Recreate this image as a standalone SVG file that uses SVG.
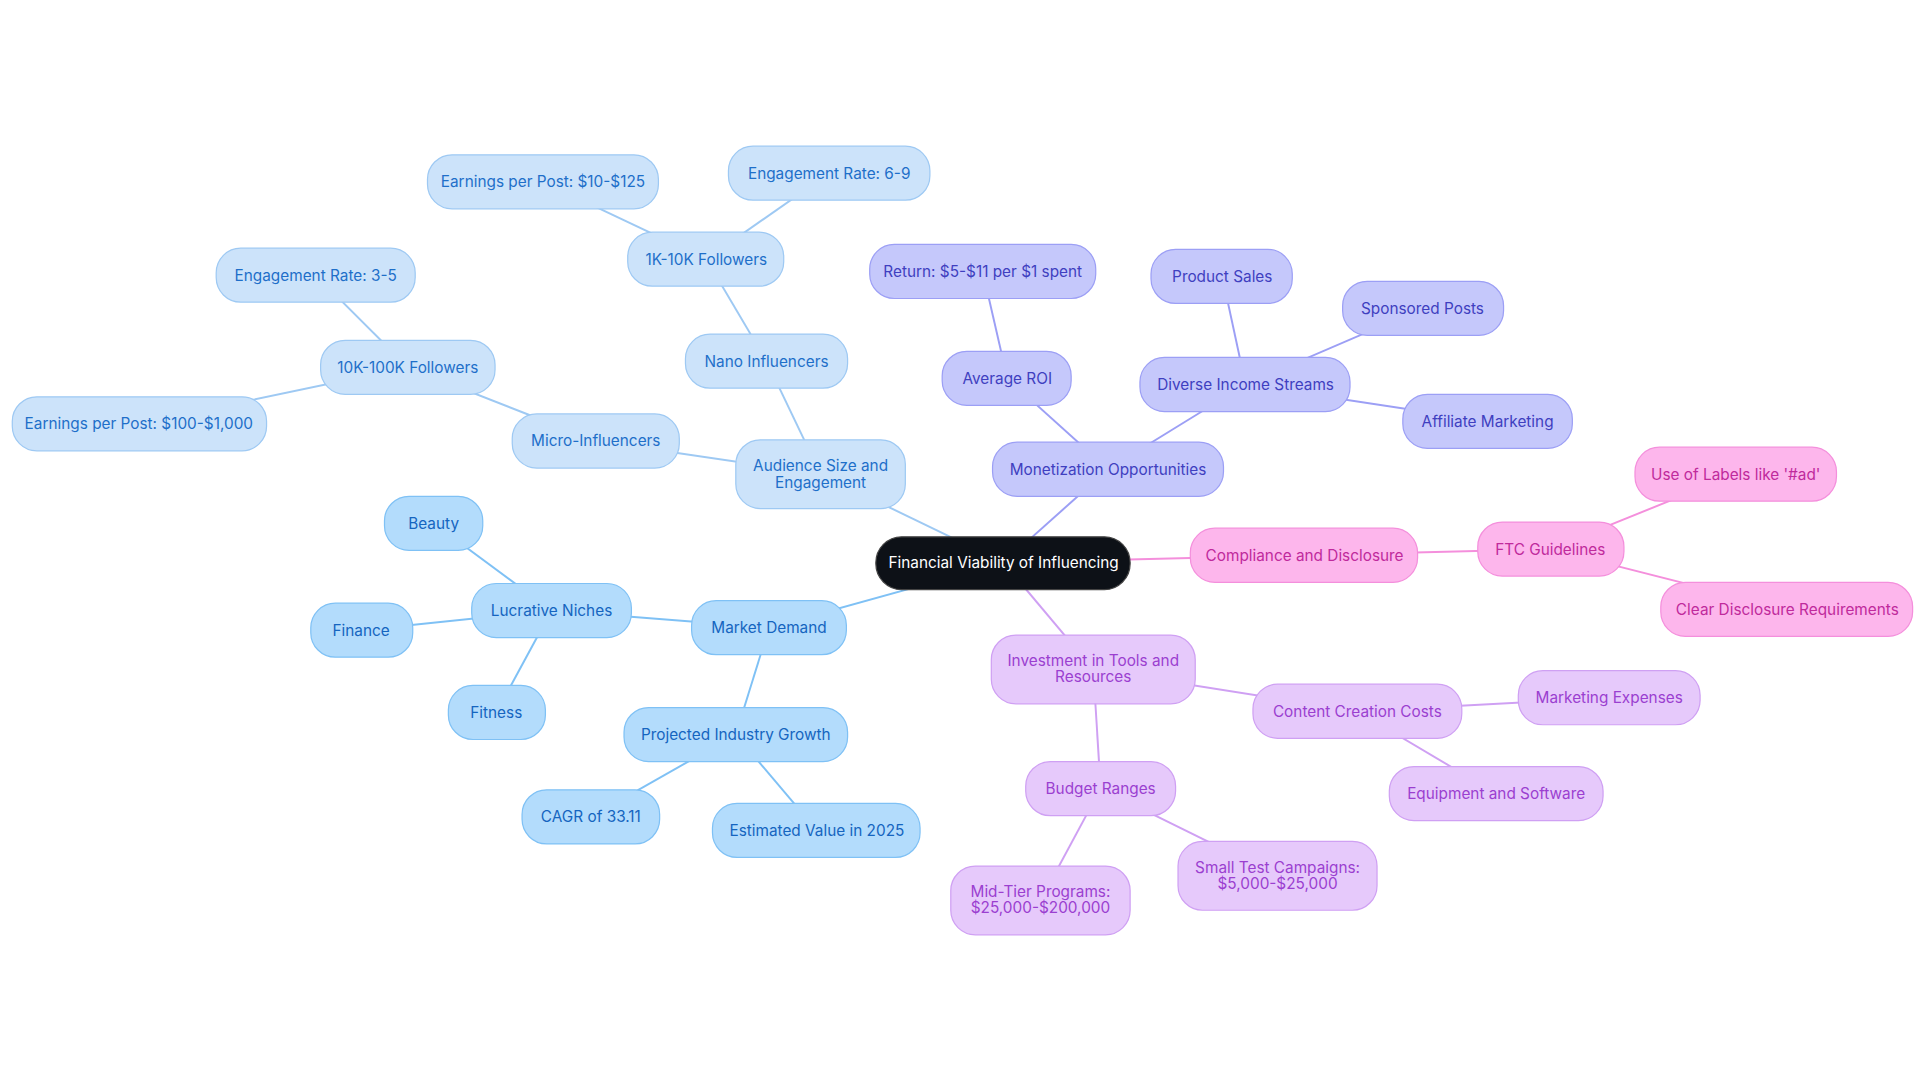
<svg xmlns="http://www.w3.org/2000/svg" width="1920" height="1083" viewBox="0 0 1920 1083">
<style>
text{font-family:Inter,"Noto Sans",sans-serif;font-size:12.5px;text-anchor:middle;dominant-baseline:central}
.e line{stroke-width:1.6;fill:none}
.a rect{fill:#cce3fa;stroke:#9ec9f3}.a text{fill:#1e6fc9}
.b rect{fill:#b3dcfc;stroke:#7fc1f5}.b text{fill:#1565c0}
.c rect{fill:#c5c8fb;stroke:#9c9ff5}.c text{fill:#3f3fc0}
.d rect{fill:#fdb6ec;stroke:#f48fdc}.d text{fill:#c02a9c}
.f rect{fill:#e6c9fb;stroke:#cfa0f3}.f text{fill:#9b3fd0}
</style>
<rect width="1920" height="1083" fill="#fff"/>
<g transform="scale(1.2284)">
<g class="e" id="connectors">
<g stroke="#9ec9f3">
<line x1="817" y1="458" x2="668" y2="386"/><line x1="668" y1="386" x2="624" y2="294"/><line x1="624" y1="294" x2="575" y2="211"/><line x1="575" y1="211" x2="442" y2="148"/><line x1="575" y1="211" x2="675" y2="141"/><line x1="668" y1="386" x2="485" y2="359"/><line x1="485" y1="359" x2="332" y2="299"/><line x1="332" y1="299" x2="257" y2="224"/><line x1="332" y1="299" x2="113" y2="345"/>
</g>
<g stroke="#7fc1f5">
<line x1="817" y1="458" x2="626" y2="511"/><line x1="626" y1="511" x2="449" y2="497"/><line x1="449" y1="497" x2="353" y2="426"/><line x1="449" y1="497" x2="294" y2="513"/><line x1="449" y1="497" x2="404" y2="580"/><line x1="626" y1="511" x2="599" y2="598"/><line x1="599" y1="598" x2="481" y2="665"/><line x1="599" y1="598" x2="665" y2="676"/>
</g>
<g stroke="#9c9ff5">
<line x1="817" y1="458" x2="902" y2="382"/><line x1="902" y1="382" x2="820" y2="308"/><line x1="820" y1="308" x2="800" y2="221"/><line x1="902" y1="382" x2="1014" y2="313"/><line x1="1014" y1="313" x2="995" y2="225"/><line x1="1014" y1="313" x2="1158" y2="251"/><line x1="1014" y1="313" x2="1211" y2="343"/>
</g>
<g stroke="#f48fdc">
<line x1="817" y1="458" x2="1062" y2="452"/><line x1="1062" y1="452" x2="1262" y2="447"/><line x1="1262" y1="447" x2="1413" y2="386"/><line x1="1262" y1="447" x2="1455" y2="496"/>
</g>
<g stroke="#cfa0f3">
<line x1="817" y1="458" x2="890" y2="545"/><line x1="890" y1="545" x2="1105" y2="579"/><line x1="1105" y1="579" x2="1310" y2="568"/><line x1="1105" y1="579" x2="1218" y2="646"/><line x1="890" y1="545" x2="896" y2="642"/><line x1="896" y1="642" x2="847" y2="733"/><line x1="896" y1="642" x2="1040" y2="713"/>
</g>
</g>
<g id="root"><rect x="713" y="437" width="207" height="43" rx="21" fill="#0d1117" stroke="#444"/><text x="817" y="458" fill="#fff">Financial Viability of Influencing</text></g>
<g class="a">
<g id="n1"><rect x="599" y="358" width="138" height="56" rx="20"/><text x="668" y="379">Audience Size and</text><text x="668" y="393">Engagement</text></g>
<g id="n2"><rect x="558" y="272" width="132" height="44" rx="20"/><text x="624" y="294">Nano Influencers</text></g>
<g id="n3"><rect x="511" y="189" width="127" height="44" rx="20"/><text x="575" y="211">1K-10K Followers</text></g>
<g id="n4"><rect x="348" y="126" width="188" height="44" rx="20"/><text x="442" y="148">Earnings per Post: $10-$125</text></g>
<g id="n5"><rect x="593" y="119" width="164" height="44" rx="20"/><text x="675" y="141">Engagement Rate: 6-9</text></g>
<g id="n6"><rect x="417" y="337" width="136" height="44" rx="20"/><text x="485" y="359">Micro-Influencers</text></g>
<g id="n7"><rect x="261" y="277" width="142" height="44" rx="20"/><text x="332" y="299">10K-100K Followers</text></g>
<g id="n8"><rect x="176" y="202" width="162" height="44" rx="20"/><text x="257" y="224">Engagement Rate: 3-5</text></g>
<g id="n9"><rect x="10" y="323" width="207" height="44" rx="20"/><text x="113" y="345">Earnings per Post: $100-$1,000</text></g>
</g>
<g class="b">
<g id="m1"><rect x="563" y="489" width="126" height="44" rx="20"/><text x="626" y="511">Market Demand</text></g>
<g id="m2"><rect x="384" y="475" width="130" height="44" rx="20"/><text x="449" y="497">Lucrative Niches</text></g>
<g id="m3"><rect x="313" y="404" width="80" height="44" rx="20"/><text x="353" y="426">Beauty</text></g>
<g id="m4"><rect x="253" y="491" width="83" height="44" rx="20"/><text x="294" y="513">Finance</text></g>
<g id="m5"><rect x="365" y="558" width="79" height="44" rx="20"/><text x="404" y="580">Fitness</text></g>
<g id="m6"><rect x="508" y="576" width="182" height="44" rx="20"/><text x="599" y="598">Projected Industry Growth</text></g>
<g id="m7"><rect x="425" y="643" width="112" height="44" rx="20"/><text x="481" y="665">CAGR of 33.11</text></g>
<g id="m8"><rect x="580" y="654" width="169" height="44" rx="20"/><text x="665" y="676">Estimated Value in 2025</text></g>
</g>
<g class="c">
<g id="c1"><rect x="808" y="360" width="188" height="44" rx="20"/><text x="902" y="382">Monetization Opportunities</text></g>
<g id="c2"><rect x="767" y="286" width="105" height="44" rx="20"/><text x="820" y="308">Average ROI</text></g>
<g id="c3"><rect x="708" y="199" width="184" height="44" rx="20"/><text x="800" y="221">Return: $5-$11 per $1 spent</text></g>
<g id="c4"><rect x="928" y="291" width="171" height="44" rx="20"/><text x="1014" y="313">Diverse Income Streams</text></g>
<g id="c5"><rect x="937" y="203" width="115" height="44" rx="20"/><text x="995" y="225">Product Sales</text></g>
<g id="c6"><rect x="1093" y="229" width="131" height="44" rx="20"/><text x="1158" y="251">Sponsored Posts</text></g>
<g id="c7"><rect x="1142" y="321" width="138" height="44" rx="20"/><text x="1211" y="343">Affiliate Marketing</text></g>
</g>
<g class="d">
<g id="d1"><rect x="969" y="430" width="185" height="44" rx="20"/><text x="1062" y="452">Compliance and Disclosure</text></g>
<g id="d2"><rect x="1203" y="425" width="119" height="44" rx="20"/><text x="1262" y="447">FTC Guidelines</text></g>
<g id="d3"><rect x="1331" y="364" width="164" height="44" rx="20"/><text x="1413" y="386">Use of Labels like '#ad'</text></g>
<g id="d4"><rect x="1352" y="474" width="205" height="44" rx="20"/><text x="1455" y="496">Clear Disclosure Requirements</text></g>
</g>
<g class="f">
<g id="f1"><rect x="807" y="517" width="166" height="56" rx="20"/><text x="890" y="538">Investment in Tools and</text><text x="890" y="551">Resources</text></g>
<g id="f2"><rect x="1020" y="557" width="170" height="44" rx="20"/><text x="1105" y="579">Content Creation Costs</text></g>
<g id="f3"><rect x="1236" y="546" width="148" height="44" rx="20"/><text x="1310" y="568">Marketing Expenses</text></g>
<g id="f4"><rect x="1131" y="624" width="174" height="44" rx="20"/><text x="1218" y="646">Equipment and Software</text></g>
<g id="f5"><rect x="835" y="620" width="122" height="44" rx="20"/><text x="896" y="642">Budget Ranges</text></g>
<g id="f6"><rect x="774" y="705" width="146" height="56" rx="20"/><text x="847" y="726">Mid-Tier Programs:</text><text x="847" y="739">$25,000-$200,000</text></g>
<g id="f7"><rect x="959" y="685" width="162" height="56" rx="20"/><text x="1040" y="706">Small Test Campaigns:</text><text x="1040" y="719">$5,000-$25,000</text></g>
</g>
</g>
</svg>
